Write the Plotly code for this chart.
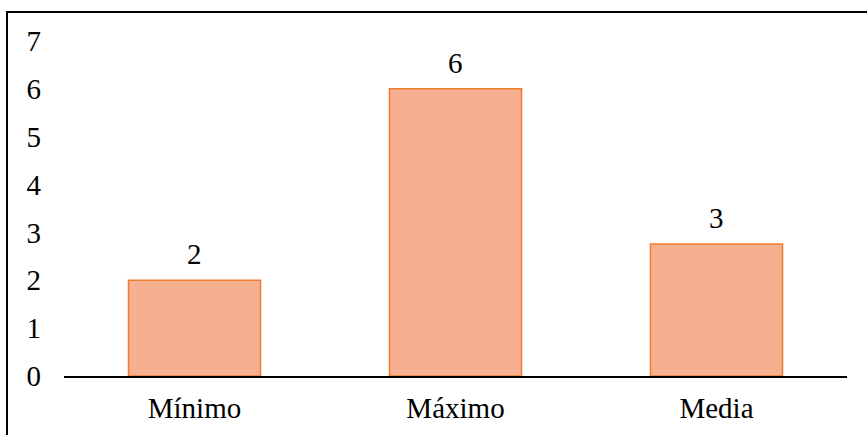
import plotly.graph_objects as go

categories = ["Mínimo", "Máximo", "Media"]
values = [2, 6, 2.76]
labels = ["2", "6", "3"]
y_ticks = [0, 1, 2, 3, 4, 5, 6, 7]

W, H = 867, 435
L, R, T, B = 64, 20, 41, 59
pw, ph = W - L - R, H - T - B

font = dict(family="Liberation Serif, Times New Roman, serif", size=29, color="#000000")

fig = go.Figure()
fig.add_trace(go.Bar(
    x=categories, y=values,
    marker=dict(color="#F6AF8F", line=dict(color="#ED7D31", width=1.5)),
    hoverinfo="skip",
))

for c, v, t in zip(categories, values, labels):
    fig.add_annotation(x=c, y=v, text=t, showarrow=False, yanchor="bottom",
                       yshift=8, font=font)

def px_x(p):
    return (p - L) / pw

def px_y(p):
    return (H - B - p) / ph

fig.add_shape(type="rect", xref="paper", yref="paper",
              x0=px_x(7), x1=px_x(875), y0=px_y(12), y1=px_y(445),
              line=dict(color="#000000", width=2), fillcolor="rgba(0,0,0,0)")

fig.update_layout(
    width=W, height=H,
    margin=dict(l=L, r=R, t=T, b=B, autoexpand=False),
    paper_bgcolor="white", plot_bgcolor="white",
    bargap=0.494,
    showlegend=False,
    font=font,
    xaxis=dict(showline=True, linecolor="#000000", linewidth=1.5, showgrid=False,
               ticks="", tickfont=font, ticklabelstandoff=6, zeroline=False,
               automargin=False),
    yaxis=dict(range=[0, 7], tickvals=y_ticks, showline=False, showgrid=False,
               zeroline=False, ticks="", tickfont=font, ticklabelstandoff=22,
               automargin=False),
)

fig.write_html("out.html",
               config={"displayModeBar": False, "staticPlot": True},
               post_script="document.body.style.margin='0';document.body.style.overflow='hidden';")
